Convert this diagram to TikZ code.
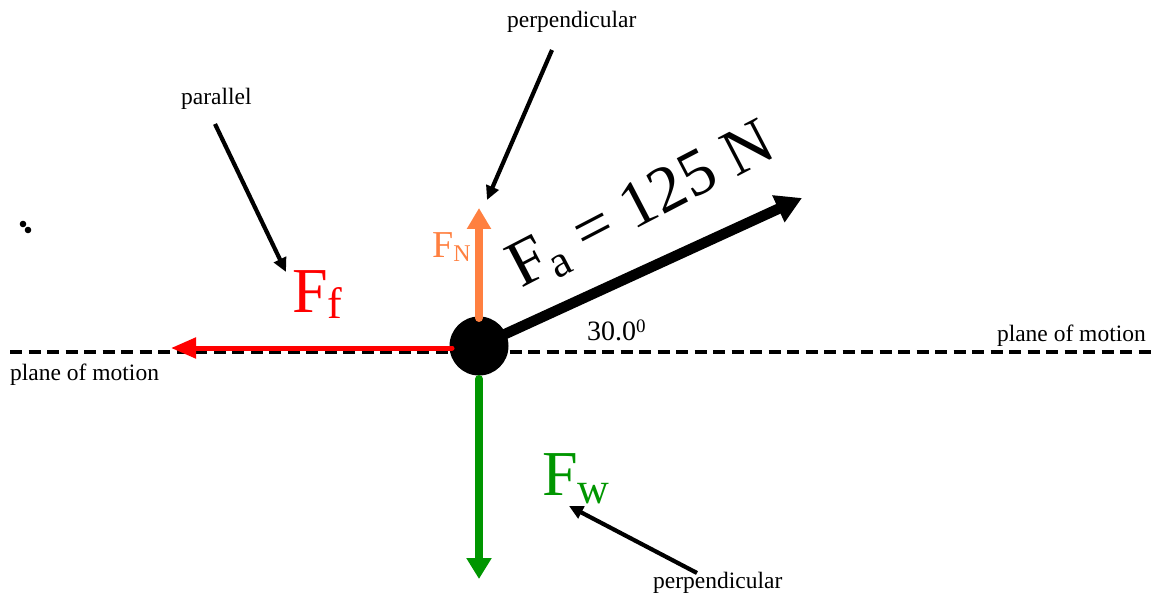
\documentclass[tikz,border=0pt]{standalone}
\usepackage{fontspec}
\setmainfont{Liberation Serif}
\usetikzlibrary{arrows.meta}
\definecolor{fred}{RGB}{255,0,0}
\definecolor{forange}{RGB}{255,128,64}
\definecolor{fgreen}{RGB}{0,150,0}
\newcommand{\fsz}[1]{\fontsize{#1}{#1}\selectfont}
\begin{document}
\begin{tikzpicture}[x=1pt,y=-1pt,
  small/.style={font=\fsz{23.5}, inner sep=0pt},
  biglabel/.style={inner sep=0pt},
  pointer/.style={line width=4.2pt, -{Triangle[length=14pt,width=13pt]}},
  plane/.style={line width=4pt, dash pattern=on 12pt off 6.5pt},
  force/.style={line cap=round}]
\useasboundingbox (0,0) rectangle (1151,596);
% plane of motion
\coordinate (pl) at (10,352);
\coordinate (pr) at (1151,352);
\draw[plane] (pl) -- (pr);
\node[small, anchor=base east] (pomr) at (1146,341) {plane of motion};
\node[small, anchor=base west] (poml) at (10,380) {plane of motion};
% dots
\fill (23,224) circle (3.3);
\fill (28,230) circle (3.3);
% ball
\node[circle, fill=black, minimum size=59pt, inner sep=0pt] (ball) at (479,346) {};
% forces
\coordinate (ftip) at (171,348);
\coordinate (fstart) at (452,348);
\draw[force, fred, line width=5pt, -{Triangle[length=25pt,width=20pt]}] (fstart) -- (ftip);
\coordinate (ntip) at (479,208);
\coordinate (nstart) at (479,318);
\draw[force, forange, line width=8pt, -{Triangle[length=21pt,width=23pt]}] (nstart) -- (ntip);
\coordinate (wtip) at (479,579);
\coordinate (wstart) at (479,379);
\draw[force, fgreen, line width=8pt, -{Triangle[length=21pt,width=24pt]}] (wstart) -- (wtip);
\coordinate (atip) at (802,198);
\draw[line width=10.5pt, -{Triangle[length=26pt,width=28pt]}] (ball.center) -- (atip);
\node[small, font=\fsz{28}, anchor=base west] (ang) at (587,340) {30.0\raisebox{8pt}{\fsz{19}0}};
% labels
\node[biglabel, fred, anchor=base west] (Ff) at (292,312) {\fsz{64}F\raisebox{-6pt}{\fsz{44}f}};
\node[biglabel, fgreen, anchor=base west] (Fw) at (542,495) {\fsz{64}F\raisebox{-8pt}{\fsz{44}w}};
\node[biglabel, forange, anchor=base west] (FN) at (432,258) {\fsz{38}F\raisebox{-4pt}{\fsz{24}N}};
\node[biglabel, anchor=base west, rotate=27.5] (Fa) at (521,289) {\fsz{66}F\raisebox{-8pt}{\fsz{45}a} = 125 N};
% annotations
\node[small, anchor=base west] (par) at (181,105) {parallel};
\node[small, anchor=base west] (perp1) at (507,28) {perpendicular};
\node[small, anchor=base west] (perp2) at (653,588) {perpendicular};
\coordinate (parS) at (215,124);
\coordinate (parT) at (286,272);
\coordinate (p1S) at (552,50);
\coordinate (p1T) at (487,200);
\coordinate (p2S) at (697,573);
\coordinate (p2T) at (569,506);
\draw[pointer] (parS) -- (parT);
\draw[pointer] (p1S) -- (p1T);
\draw[pointer] (p2S) -- (p2T);
\end{tikzpicture}
\end{document}
